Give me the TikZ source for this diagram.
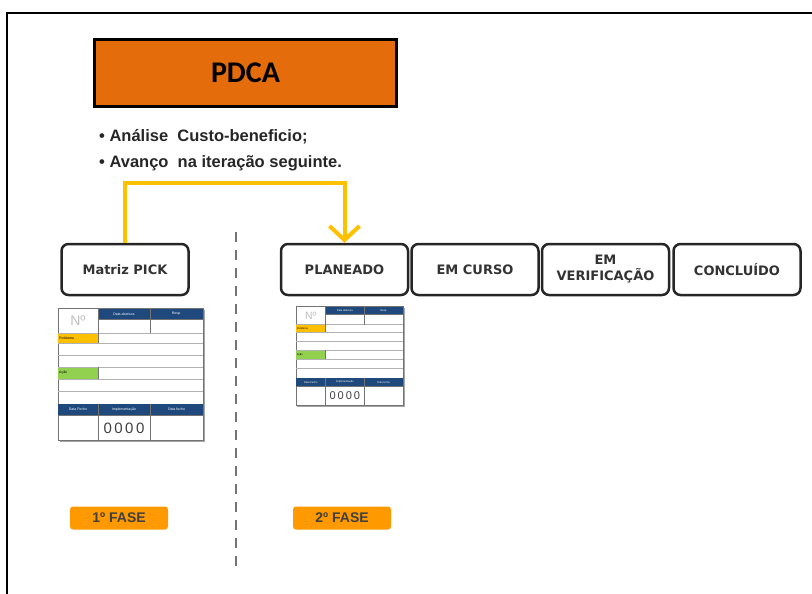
\documentclass[tikz,border=0pt]{standalone}
\usepackage{fontspec}
\setmainfont{Liberation Sans}
\newfontfamily\boxfont{DejaVu Sans}
\newfontfamily\titlefont{Carlito}
\usepackage{tikz}
\usetikzlibrary{arrows.meta}
\usetikzlibrary{positioning}
\definecolor{pdcaorange}{HTML}{E46C0A}
\definecolor{faseorange}{HTML}{FF9900}
\definecolor{setayellow}{HTML}{FFC000}
\definecolor{cardblue}{HTML}{1F497D}
\definecolor{cardgreen}{HTML}{92D050}
\tikzset{etapa/.style = {draw=black!85, line width=2.5pt, rounded corners=7pt, fill=white,
                         minimum width=127pt, minimum height=51pt, inner sep=0pt, align=center,
                         font=\boxfont\bfseries\fontsize{13}{16}\selectfont, text=black!80},
         fase/.style = {fill=faseorange, rounded corners=3pt, minimum width=98pt,
                        minimum height=23pt, inner sep=0pt,
                        font=\bfseries\fontsize{14}{16}\selectfont, text=black!75},
         seta/.style = {draw=setayellow, line width=4pt,
                        -{Straight Barb[length=14pt, width=30pt]}},
         mini/.style = {inner sep=0pt, font=\fontsize{3.5}{4}\selectfont},
         ficha/.pic = {
             \fill[black!35] (2,2) rectangle (147,134);
             \draw[black!55, fill=white, line width=0.8pt] (0,0) rectangle (145,132);
             \fill[cardblue] (40,1) rectangle (145,11);
             \fill[cardblue] (0,96) rectangle (145,107);
             \fill[setayellow] (0,25) rectangle (40,35);
             \fill[cardgreen] (0,59) rectangle (40,71);
             \foreach \y in {25,35,47,59,71,83}
                 \draw[black!30, line width=1pt] (0,\y) -- (145,\y);
             \draw[black!55, line width=0.6pt] (40,0) -- (40,25) (92,1) -- (92,25) (40,11) -- (145,11);
             \draw[black!55, line width=0.6pt] (40,25) -- (40,35) (40,59) -- (40,71);
             \draw[black!55, line width=0.6pt] (40,96) -- (40,132) (92,96) -- (92,132) (0,107) -- (145,107);
             \node[text=black!25, font=\fontsize{14}{14}\selectfont] (-num) at (20,13) {Nº};
             \node[mini, text=white] (-abert) at (66,6) {Data abertura};
             \node[mini, text=white] (-resp) at (118.5,6) {Resp.};
             \node[mini, anchor=west] (-prob) at (1,30) {Problema};
             \node[mini, anchor=west] (-acao) at (1,65) {Ação};
             \node[mini, text=white] (-dfecho) at (20,101.5) {Data Fecho};
             \node[mini, text=white] (-impl) at (66,101.5) {Implementação};
             \node[mini, text=white] (-fecho) at (118.5,101.5) {Data fecho};
             \node[inner sep=0pt, text=black!75, font=\fontsize{15}{15}\selectfont] (-ciclo) at (66,120) {0\,0\,0\,0};
         }}
\begin{document}
\begin{tikzpicture}[x=1pt, y=-1pt]
    \useasboundingbox (0,0) rectangle (812,594);
    \draw[line width=2pt] (6.5,594) -- (6.5,13) -- (812,13);

    \node[draw=black, line width=2.5pt, fill=pdcaorange, minimum width=302pt, minimum height=67pt,
          font=\titlefont\bfseries\fontsize{30}{32}\selectfont] (pdca) at (245.5,73) {PDCA};
    \node[anchor=west, align=left, inner sep=0pt, text=black!85,
          font=\bfseries\fontsize{16.5}{26}\selectfont] (notas) at (99,150)
          {• Análise\ \ Custo-beneficio;\\• Avanço\ \ na iteração seguinte.};

    \node[etapa] (pick) at (125,269.5) {Matriz PICK};
    \node[etapa] (plan) at (344.5,269.5) {PLANEADO};
    \node[etapa, right=1pt of plan] (curso) {EM CURSO};
    \node[etapa, right=1pt of curso] (verif) {EM\\VERIFICAÇÃO};
    \node[etapa, right=2pt of verif] (concl) {CONCLUÍDO};

    \draw[seta] (pick.north) -- ++(0,-60) -| (plan.north);

    \draw[black!55, line width=2pt, dash pattern=on 10pt off 8pt] (236,232) -- (236,572);

    \pic (ficha1) at (58,308) {ficha};
    \pic[xscale=0.74, yscale=0.75, transform shape] (ficha2) at (296,306) {ficha};

    \node[fase] (fase1) at (119,518) {1º FASE};
    \node[fase] (fase2) at (342,518) {2º FASE};
\end{tikzpicture}
\end{document}
